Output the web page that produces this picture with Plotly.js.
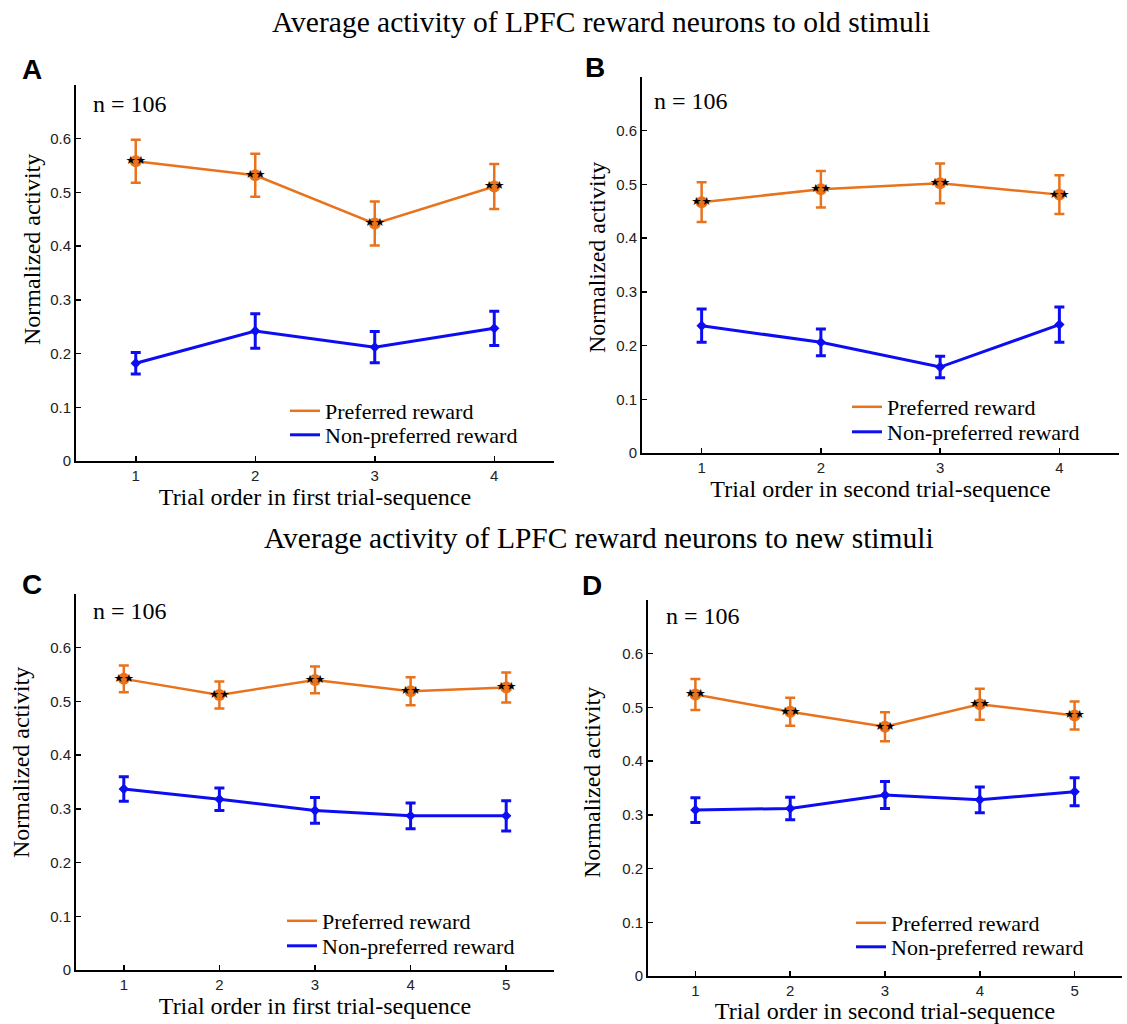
<!DOCTYPE html>
<html><head><meta charset="utf-8">
<script src="https://cdn.plot.ly/plotly-3.0.1.min.js"></script>
<style>html,body{margin:0;padding:0;background:#fff;overflow:hidden}</style>
</head><body>
<div id="chart" style="width:1127px;height:1024px"></div>
<script>
// ---- data ----
const trialsFour = [1, 2, 3, 4];
const trialsFive = [1, 2, 3, 4, 5];
const yTickVals = [0, 0.1, 0.2, 0.3, 0.4, 0.5, 0.6];
const yTickText = ['0', '0.1', '0.2', '0.3', '0.4', '0.5', '0.6'];
const seriesNames = ['Preferred reward', 'Non-preferred reward'];
const sigMark = '★★';

// Panel A: old stimuli, first trial-sequence
const aPref = [0.558, 0.532, 0.442, 0.511];
const aPrefErr = [0.040, 0.040, 0.041, 0.042];
const aNon = [0.182, 0.242, 0.212, 0.247];
const aNonErr = [0.020, 0.032, 0.029, 0.032];
// Panel B: old stimuli, second trial-sequence
const bPref = [0.467, 0.491, 0.502, 0.481];
const bPrefErr = [0.037, 0.034, 0.037, 0.036];
const bNon = [0.237, 0.206, 0.160, 0.239];
const bNonErr = [0.031, 0.025, 0.020, 0.033];
// Panel C: new stimuli, first trial-sequence
const cPref = [0.542, 0.512, 0.540, 0.519, 0.526];
const cPrefErr = [0.025, 0.025, 0.025, 0.026, 0.028];
const cNon = [0.337, 0.318, 0.297, 0.287, 0.287];
const cNonErr = [0.023, 0.021, 0.024, 0.024, 0.028];
// Panel D: new stimuli, second trial-sequence
const dPref = [0.524, 0.492, 0.464, 0.506, 0.485];
const dPrefErr = [0.029, 0.026, 0.027, 0.029, 0.026];
const dNon = [0.309, 0.312, 0.337, 0.328, 0.343];
const dNonErr = [0.023, 0.021, 0.025, 0.024, 0.026];

const titleOld = 'Average activity of LPFC reward neurons to old stimuli';
const titleNew = 'Average activity of LPFC reward neurons to new stimuli';
const xTitleFirst = 'Trial order in first trial-sequence';
const xTitleSecond = 'Trial order in second trial-sequence';
const yTitle = 'Normalized activity';
const nLabel = 'n = 106';

// ---- style ----
const ORANGE = '#E8731C';
const BLUE = '#0D0DF2';
const SERIF = 'Liberation Serif, Times New Roman, serif';
const SANS = 'Liberation Sans, Arial, sans-serif';

const W = 1127, H = 1024;
const px = v => v / W;
const py = v => (H - v) / H;

const panels = [
  {x: trialsFour, pref: aPref, prefErr: aPrefErr, non: aNon, nonErr: aNonErr, xa: 'x', ya: 'y',
   dom: [76, 554], ydom: [461, 85], xt: xTitleFirst, letter: 'A', letterPos: [32, 69], nPos: [91, 104],
   yTitlePos: [32, 250], legX: 285, legRows: [412, 436]},
  {x: trialsFour, pref: bPref, prefErr: bPrefErr, non: bNon, nonErr: bNonErr, xa: 'x2', ya: 'y2',
   dom: [642, 1119], ydom: [453, 77], xt: xTitleSecond, letter: 'B', letterPos: [595, 67], nPos: [652, 101],
   yTitlePos: [597, 258], legX: 847, legRows: [408, 433]},
  {x: trialsFive, pref: cPref, prefErr: cPrefErr, non: cNon, nonErr: cNonErr, xa: 'x3', ya: 'y3',
   dom: [76, 554], ydom: [970, 594], xt: xTitleFirst, letter: 'C', letterPos: [32, 584], nPos: [91, 611],
   yTitlePos: [21, 763], legX: 282, legRows: [922, 947]},
  {x: trialsFive, pref: dPref, prefErr: dPrefErr, non: dNon, nonErr: dNonErr, xa: 'x4', ya: 'y4',
   dom: [648, 1122], ydom: [976, 600], xt: xTitleSecond, letter: 'D', letterPos: [592, 585], nPos: [664, 616],
   yTitlePos: [592, 783], legX: 851, legRows: [924, 948]}
];

const data = [];
const layout = {
  width: W, height: H,
  margin: {l: 0, r: 0, t: 0, b: 0},
  paper_bgcolor: '#fff', plot_bgcolor: '#fff',
  showlegend: true,
  annotations: [],
  font: {family: SERIF, color: '#000'}
};

layout.annotations.push({text: titleOld, xref: 'paper', yref: 'paper', x: px(601), y: py(22),
  xanchor: 'center', yanchor: 'middle', showarrow: false, font: {family: SERIF, size: 29.5, color: '#000'}});
layout.annotations.push({text: titleNew, xref: 'paper', yref: 'paper', x: px(599), y: py(538),
  xanchor: 'center', yanchor: 'middle', showarrow: false, font: {family: SERIF, size: 29.5, color: '#000'}});

panels.forEach((p, i) => {
  const sfx = i === 0 ? '' : String(i + 1);
  const xaxName = 'xaxis' + sfx, yaxName = 'yaxis' + sfx;
  const legPref = 'legend' + (i === 0 ? '' : String(2 * i + 1));
  const legNon = 'legend' + String(2 * i + 2);
  const maxX = p.x[p.x.length - 1];
  layout[xaxName] = {
    domain: [px(p.dom[0]), px(p.dom[1])],
    anchor: p.ya,
    range: [0.5, maxX + 0.5],
    tickvals: p.x,
    ticks: 'inside', ticklen: 5, tickwidth: 1.5, tickcolor: '#000',
    showline: true, linecolor: '#000', linewidth: 2,
    showgrid: false, zeroline: false,
    tickfont: {family: SANS, size: 15, color: '#222'},
    title: {text: p.xt, font: {family: SERIF, size: 24, color: '#000'}, standoff: 5},
    fixedrange: true
  };
  layout[yaxName] = {
    domain: [py(p.ydom[0]), py(p.ydom[1])],
    anchor: p.xa,
    range: [0, 0.7],
    tickvals: yTickVals, ticktext: yTickText,
    ticks: 'inside', ticklen: 5, tickwidth: 1.5, tickcolor: '#000',
    showline: true, linecolor: '#000', linewidth: 2,
    showgrid: false, zeroline: false,
    tickfont: {family: SANS, size: 15, color: '#222'},
    fixedrange: true
  };
  [legPref, legNon].forEach((lg, k) => {
    layout[lg] = {
      x: px(p.legX), y: py(p.legRows[k] - 22), xanchor: 'left', yanchor: 'top',
      bgcolor: 'rgba(0,0,0,0)', borderwidth: 0,
      font: {family: SERIF, size: 22, color: '#000'},
      itemclick: false, itemdoubleclick: false
    };
  });

  // lines (carry legend)
  data.push({type: 'scatter', mode: 'lines', x: p.x, y: p.pref, xaxis: p.xa, yaxis: p.ya,
    name: seriesNames[0], legend: legPref, line: {color: ORANGE, width: 2.5}, hoverinfo: 'skip'});
  data.push({type: 'scatter', mode: 'lines', x: p.x, y: p.non, xaxis: p.xa, yaxis: p.ya,
    name: seriesNames[1], legend: legNon, line: {color: BLUE, width: 3}, hoverinfo: 'skip'});
  // markers + error bars
  data.push({type: 'scatter', mode: 'markers+text', x: p.x, y: p.pref, xaxis: p.xa, yaxis: p.ya,
    showlegend: false, marker: {color: ORANGE, size: 12, symbol: 'circle'},
    text: p.x.map(() => sigMark), textposition: 'middle center',
    textfont: {family: 'DejaVu Sans', size: 11.5, color: '#000'},
    error_y: {type: 'data', array: p.prefErr, color: ORANGE, thickness: 2.5, width: 5}});
  data.push({type: 'scatter', mode: 'markers', x: p.x, y: p.non, xaxis: p.xa, yaxis: p.ya,
    showlegend: false, marker: {color: BLUE, size: 8, symbol: 'diamond'},
    error_y: {type: 'data', array: p.nonErr, color: BLUE, thickness: 3, width: 5}});

  layout.annotations.push({text: yTitle, xref: 'paper', yref: 'paper', textangle: -90,
    x: px(p.yTitlePos[0]), y: py(p.yTitlePos[1]), xanchor: 'center', yanchor: 'middle', showarrow: false,
    font: {family: SERIF, size: 24, color: '#000'}});
  layout.annotations.push({text: '<b>' + p.letter + '</b>', xref: 'paper', yref: 'paper',
    x: px(p.letterPos[0]), y: py(p.letterPos[1]), xanchor: 'center', yanchor: 'middle', showarrow: false,
    font: {family: SANS, size: 28, color: '#000'}});
  layout.annotations.push({text: nLabel, xref: 'paper', yref: 'paper',
    x: px(p.nPos[0]), y: py(p.nPos[1]), xanchor: 'left', yanchor: 'middle', showarrow: false,
    font: {family: SERIF, size: 24, color: '#000'}});
});

Plotly.newPlot('chart', data, layout, {displayModeBar: false, staticPlot: true});
</script>
</body></html>
